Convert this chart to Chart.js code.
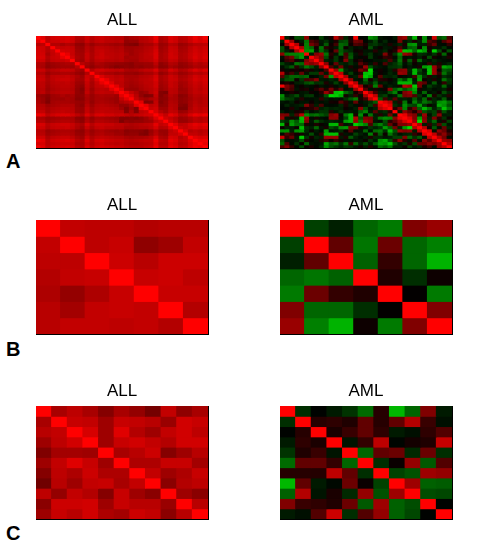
<!DOCTYPE html>
<html><head><meta charset="utf-8">
<script src="https://cdn.jsdelivr.net/npm/chart.js@4"></script>
<style>
html,body{margin:0;padding:0;background:#fff;width:488px;height:555px;overflow:hidden}
canvas{position:absolute;display:block}
.tag{position:absolute;left:6px;font:bold 20px/20px "Liberation Sans",Arial,sans-serif;color:#000}
</style></head><body>
<div class="tag" style="top:151px">A</div>
<div class="tag" style="top:339px">B</div>
<div class="tag" style="top:523px">C</div>
<script>
// Upper triangles of the 35x35 correlation maps (row i starts at column i), in hundredths.
const allA = [
[100,88,72,82,84, 84,86,82,70,70, 80,72,78,80,76, 74,72,72,62,66, 68,72,74,78,92, 68,72,86,82,72, 74,82,92,84,95],
[100,74,80,80, 82,84,80,68,66, 78,70,76,78,74, 74,72,74,58,60, 60,70,72,76,88, 66,70,84,80,70, 72,80,88,84,88],
[100,70,70, 66,70,68,58,56, 68,60,66,68,66, 64,62,64,54,52, 50,62,66,66,74, 60,62,72,70,60, 62,68,72,72,74],
[100,78, 76,78,76,62,60, 72,66,74,74,72, 70,68,70,62,62, 64,66,70,72,80, 62,66,78,76,64, 66,74,80,76,80],
[100, 82,80,78,64,62, 74,66,76,78,74, 72,70,72,64,62, 66,68,72,74,84, 64,68,80,78,66, 68,76,82,78,82],
[100,90,78,66,64, 78,68,76,80,74, 74,72,74,68,62, 66,70,74,76,86, 66,70,82,78,68, 70,78,84,80,84],
[100,82,68,64, 78,68,78,80,76, 74,72,74,64,66, 66,70,74,74,86, 66,70,82,80,68, 70,78,86,80,86],
[100,66,62, 76,66,74,76,72, 72,70,72,66,64, 64,70,72,74,82, 66,68,78,76,66, 68,74,82,78,82],
[100,72, 66,60,68,66,62, 60,58,58,56,54, 60,60,62,62,74, 56,60,70,68,58, 60,66,72,68,72],
[100, 62,56,62,64,60, 56,52,54,56,54, 58,56,60,60,68, 54,56,66,62,56, 58,62,68,66,68],
[100,70,80,82,78, 76,74,76,68,66, 68,72,76,76,86, 68,70,84,78,68, 70,78,86,80,86],
[100,74,70,66, 66,62,64,60,60, 58,62,66,66,74, 58,62,72,68,60, 62,68,72,70,74],
[100,86,78, 76,72,74,66,66, 66,70,72,74,84, 66,70,80,76,66, 68,74,82,78,82],
[100,90, 78,74,76,68,66, 68,72,74,76,86, 66,70,80,78,68, 70,76,84,80,84],
[100, 86,72,74,66,64, 66,70,74,74,82, 64,68,78,74,64, 66,74,80,76,82],
[100,88,74,66,62, 64,68,72,74,82, 62,66,78,74,62, 66,72,78,74,80],
[100,86,62,60, 60,66,70,72,78, 60,64,74,72,60, 62,70,76,72,78],
[100,88,76, 68,58,62,72,80, 52,50,74,72,62, 62,70,76,74,78],
[100,88, 72,58,50,52,76, 52,58,70,66,54, 56,66,72,70,74],
[100, 76,66,62,68,72, 54,56,68,66,56, 58,64,70,68,72],
[100,88,50,52,76, 52,58,70,68,56, 58,66,72,68,72],
[100,90,74,78, 56,58,72,70,54, 52,66,74,70,72],
[100,78,82, 62,62,74,70,50, 50,68,76,72,76],
[100,84, 70,64,76,74,60, 62,72,76,74,78],
[100, 86,76,90,84,70, 72,84,92,88,92],
[100,82,76,70,60, 62,68,74,70,74],
[100,80,72,60, 60,66,72,70,74],
[100,88,74, 76,84,90,86,90],
[100,80, 76,82,86,82,86],
[100, 84,70,74,70,74],
[100,76,76,72,76],
[100,88,84,86],
[100,92,94],
[100,90],
[100]
];
const amlA = [
[100,-12,2,-30,-28, 55,-5,-2,-25,-5, 8,70,35,-15,5, 95,-2,-3,-55,-45, -8,-4,-2,-10,50, 60,-25,-70,5,-55, -5,80,-30,-40,30],
[100,60,5,-10, -45,30,20,-10,-18, -5,10,-25,-30,12, 45,40,-3,-10,-25, -5,-15,-3,-4,48, -8,-15,10,-12,-55, 30,20,-5,30,50],
[100,70,8, -50,45,30,-8,-35, 5,25,-40,-35,5, 30,25,10,-18,-22, -12,-8,12,-8,-15, 10,-55,-60,-10,-12, 20,40,-5,-4,20],
[100,65, -50,-40,8,-45,15, 8,-10,-40,5,-12, -5,-8,5,-30,-8, 5,-10,-8,8,30, -8,-35,-40,5,-55, 8,-8,-8,-20,-4],
[100, -55,-60,-8,-40,-20, 4,40,-35,-20,-15, 5,8,-8,-8,15, -8,-15,5,12,70, -75,-70,-40,-75,-60, 8,-80,-30,4,-30],
[100,-10,50,60,-45, 15,-8,-40,25,-30, -8,12,-10,-20,-5, -8,50,10,-20,-55, 60,50,10,-18,-15, -8,-20,10,-40,5],
[100,70,50,-30, 8,-22,-3,30,-35, -5,-3,6,-22,-5, 5,20,15,-5,-40, -5,-8,-5,-12,5, -30,8,-3,-8,12],
[100,60,-12, -8,-22,-5,50,-18, 5,15,-3,-4,-8, -8,-12,30,-10,-45, 10,-35,12,-40,-10, -6,-15,-8,-5,-4],
[100,55, -4,40,-15,-10,-20, -8,35,15,-8,20, -5,30,-12,-20,-35, -6,-18,5,-8,-4, 18,-10,12,-8,-15],
[100, 30,-10,45,-8,12, -5,12,60,-30,-12, -8,-5,-18,-20,-25, -4,-10,-5,10,-60, -70,60,22,-65,-55],
[100,60,-60,-15,-8, 10,45,30,-85,-5, 8,-4,-12,15,50, 55,-15,-70,-30,-6, -75,60,5,-35,-30],
[100,75,-10,-25, -5,15,-75,-80,-8, 6,-5,-15,-8,60, 55,-12,-72,-20,-10, -75,60,20,-45,-20],
[100,65,-8, -12,40,-80,-65,-5, 35,-15,-12,-18,5, -5,-8,25,-55,-18, 12,-10,8,-18,-12],
[100,55, -8,-5,-40,8,-18, 15,12,5,-8,-45, -25,-60,-8,-60,5, -8,12,-6,-45,-22],
[100, 70,-10,-25,-12,-35, -8,-12,-5,-10,-70, -70,-70,-12,45,35, -6,-35,-5,20,-18],
[100,60,8,20,-50, 40,-6,-12,-8,10, 70,60,-80,45,-6, -25,-12,-8,-40,-8],
[100,30,-6,10, -5,8,55,-35,-55, -30,-45,-65,10,-8, -12,-5,-8,-12,8],
[100,65,25, -10,-8,-30,-50,-4, 50,60,-50,-8,-40, -6,-10,5,-30,-12],
[100,75, -18,-25,-6,-10,-45, 45,50,30,-20,-5, -50,12,-20,-10,15],
[100, -35,25,-12,35,-10, -12,-8,-35,-12,-40, 10,-15,-8,-35,-5],
[100,85,70,-12,15, -45,-4,-50,-20,-45, -35,-15,-55,-60,-40],
[100,85,-18,-10, -55,-30,-25,-60,-18, 5,-8,-65,-55,-30],
[100,15,45, -50,15,40,-35,-70, -45,-12,-30,-75,-45],
[100,-10, 55,35,12,45,-30, -18,-25,18,-30,-10],
[100, 90,60,50,-15,60, -6,-25,55,-10,-12],
[100,85,50,-60,50, -12,50,15,-20,5],
[100,60,-85,55, -15,-40,-6,12,-25],
[100,70,-10, 20,-18,35,-30,-8],
[100,70, 8,-35,-6,40,-15],
[100, 85,-6,55,40,10],
[100,75,35,55,25],
[100,70,45,-5],
[100,60,55],
[100,70],
[100]
];
const allB = [
[100,76,74,74,70,72,72],
[76,100,74,78,56,62,76],
[74,74,100,80,72,80,80],
[70,76,78,100,78,80,74],
[68,58,68,78,100,78,78],
[72,64,76,78,76,100,70],
[72,76,76,74,76,70,100]
];
const amlB = [
[100,-25,-12,-40,-48,50,60],
[-25,100,38,-46,42,-40,-50],
[-12,38,100,-38,20,-40,-70],
[-40,-46,-38,100,12,-18,5],
[-48,42,20,12,100,1,-48],
[50,-40,-40,-18,1,100,50],
[60,-50,-70,5,-48,50,100]
];
const allC = [
[100,66,74,66,52,66,58,46,76,56,66],
[66,100,78,76,62,78,76,72,60,82,78],
[72,76,100,84,62,88,70,62,76,82,74],
[62,74,82,100,62,78,82,76,70,82,82],
[50,64,64,62,100,66,72,80,52,62,72],
[62,76,88,78,62,100,68,68,78,78,64],
[52,74,68,80,68,68,100,76,62,68,78],
[44,72,62,76,78,66,76,100,54,70,74],
[74,58,76,70,52,78,62,54,100,62,54],
[54,80,80,82,62,78,72,72,60,100,72],
[62,78,72,82,68,64,80,76,54,72,100]
];
const amlC = [
[100,-18,-1,-10,-20,-42,15,-72,-40,50,-10],
[-18,100,15,18,12,38,15,38,70,22,-6],
[-1,15,100,10,22,38,18,-10,-6,18,32],
[-10,18,10,100,-8,20,74,-2,8,12,78],
[-20,12,22,-8,100,-40,38,42,-16,42,-18],
[-42,38,38,20,-40,100,-18,4,58,-35,32],
[15,15,14,74,38,-18,100,-26,-32,62,58],
[-72,38,-10,-3,42,4,-26,100,62,-38,-36],
[-38,70,-8,10,-16,58,-32,62,100,-30,-28],
[50,22,18,12,42,-35,62,-38,-30,100,-1],
[-10,-6,32,80,-18,32,58,-38,-28,-1,100]
];
const panelTitles = ["ALL","AML"];

function fromTriangle(tri){
  const n = tri.length, m = tri.map(()=>new Array(n).fill(0));
  tri.forEach((row,i)=>row.forEach((v,k)=>{ m[i][i+k]=v; m[i+k][i]=v; }));
  return m;
}
function cellColor(v){
  const c = Math.round(Math.abs(v)/100*255);
  return v>=0 ? `rgb(${c},0,0)` : `rgb(0,${c},0)`;
}
function panel(title, matrix, left, top, bottomY, topLine, titleTop){
  const cv = document.createElement('canvas');
  const h = bottomY-top+1;
  cv.width = 173; cv.height = h;
  cv.style.left = left+'px'; cv.style.top = top+'px';
  document.body.appendChild(cv);
  const n = matrix.length, labels = matrix.map((_,i)=>String(i+1));
  const scales = {
    x:{type:'category',stacked:true,position:'bottom',offset:true,
       ticks:{display:false},grid:{display:false,drawTicks:false},
       border:{display:true,color:'#000',width:1}},
    y:{type:'linear',stacked:true,position:'right',reverse:true,min:0,max:n,
       ticks:{display:false},grid:{display:false,drawTicks:false},
       border:{display:true,color:'#000',width:1}}
  };
  if(topLine) scales.x2={type:'category',position:'top',labels,
       ticks:{display:false},grid:{display:false,drawTicks:false},
       border:{display:true,color:'#000',width:1}};
  new Chart(cv,{
    type:'bar',
    data:{labels,datasets:matrix.map(row=>({
      data:row.map(()=>1),
      backgroundColor:row.map(cellColor),
      barPercentage:1,categoryPercentage:1,borderWidth:0,inflateAmount:0.5,xAxisID:'x',yAxisID:'y'
    }))},
    options:{
      responsive:false,animation:false,devicePixelRatio:1,
      layout:{padding:{left:0,right:1,top:0,bottom:1}},
      plugins:{
        legend:{display:false},tooltip:{enabled:false},
        title:{display:true,text:title,color:'#000',
          font:{family:'"Liberation Sans",Arial,sans-serif',size:17,weight:'normal',lineHeight:1},
          padding:{top:titleTop,bottom:19-titleTop}}
      },
      scales
    }
  });
}
const rows = [
  {top:0,  bottom:148, all:fromTriangle(allA), aml:fromTriangle(amlA), line:false, titleTop:12},
  {top:184,bottom:334, all:allB, aml:amlB, line:true, titleTop:13},
  {top:370,bottom:519, all:allC, aml:amlC, line:false, titleTop:13}
];
rows.forEach(r=>{
  panel(panelTitles[0], r.all, 36, r.top, r.bottom, r.line, r.titleTop);
  panel(panelTitles[1], r.aml, 280, r.top, r.bottom, r.line, r.titleTop);
});
</script>
</body></html>
